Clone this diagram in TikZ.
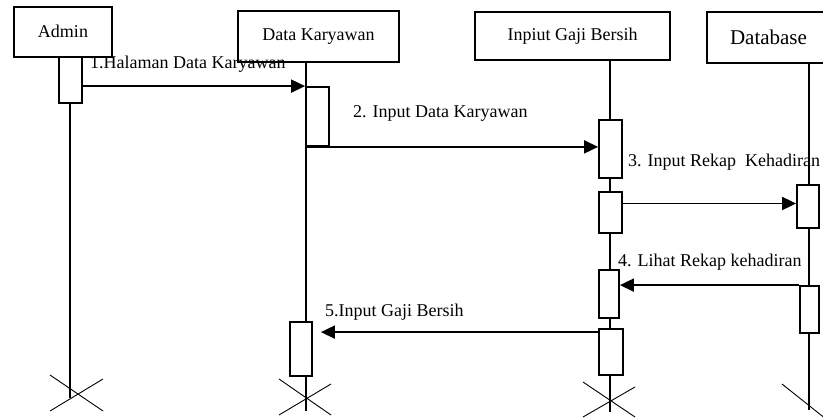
\documentclass[tikz,border=0pt]{standalone}
\usepackage{fontspec}
\setmainfont{Liberation Serif}
\usetikzlibrary{arrows.meta}

\tikzset{
    objbox/.style={draw, line width=1.8pt, inner sep=0pt, font=\fontsize{18}{20}\selectfont},
    actbox/.style={draw, fill=white, line width=1.8pt, inner sep=0pt},
    lifeline/.style={line width=1.5pt},
    msg/.style={->, line width=1.8pt},
    msglabel/.style={anchor=base west, inner sep=0pt, font=\fontsize{18}{20}\selectfont},
    killmark/.style={line width=0.9pt},
}

\begin{document}
\begin{tikzpicture}[x=1pt, y=-1pt, >={Triangle[length=14pt, width=13pt]}]
    \useasboundingbox (0,0) rectangle (823,418);

    % Objects
    \node[objbox, minimum width=98pt, minimum height=50pt] (admin) at (63,32) {\raisebox{2pt}{Admin}};
    \node[objbox, minimum width=161pt, minimum height=51pt] (datakar) at (318.5,36.5) {Data Karyawan};
    \node[objbox, minimum width=195pt, minimum height=48pt] (inputgaji) at (572.5,36) {Inpiut Gaji Bersih};
    \node[objbox, minimum width=123pt, minimum height=51pt, font=\fontsize{21}{23}\selectfont] (database) at (768.5,37.5) {Database};

    % Lifelines
    \coordinate (endA) at (70,398);
    \coordinate (endDK) at (306,411);
    \coordinate (endIG) at (610,412);
    \coordinate (endDB) at (809,410);
    \draw[lifeline] (endA |- admin.south) -- (endA);
    \draw[lifeline] (endDK |- datakar.south) -- (endDK);
    \draw[lifeline] (endIG |- inputgaji.south) -- (endIG);
    \draw[lifeline] (endDB |- database.south) -- (endDB);

    % Destroy marks
    \draw[killmark] (50,375) -- (103,411) (50,411) -- (103,379);
    \draw[killmark] (279,379) -- (331,415) (279,415) -- (331,384);
    \draw[killmark] (583,382) -- (635,417) (583,417) -- (635,387);
    \draw[killmark] (782,384) -- (836,427);

    % Activations
    \node[actbox, minimum width=23pt, minimum height=46pt] (actA) at (70.5,80) {};
    \node[actbox, minimum width=23pt, minimum height=59pt] (actDK1) at (317.5,116.5) {};
    \node[actbox, minimum width=23pt, minimum height=58pt] (actIG1) at (610.5,149) {};
    \node[actbox, minimum width=23pt, minimum height=41pt] (actIG2) at (610.5,212.5) {};
    \node[actbox, minimum width=22pt, minimum height=43pt] (actDB1) at (808,206.5) {};
    \node[actbox, minimum width=20pt, minimum height=48pt] (actIG3) at (609,294) {};
    \node[actbox, minimum width=19pt, minimum height=47pt] (actDB2) at (809.5,309.5) {};
    \node[actbox, minimum width=24pt, minimum height=46pt] (actIG4) at (611,352) {};
    \node[actbox, minimum width=22pt, minimum height=54pt] (actDK2) at (301,349) {};

    % Messages
    \draw[msg] (actA.east |- actDK1.north) -- (actDK1.north west);
    \draw[msg] (actDK1.south west) -- (actIG1.west |- actDK1.south);
    \draw[msg] ([yshift=3pt]actIG2.east |- actDB1.west) -- ([yshift=3pt]actDB1.west);
    \draw[msg] (actDB2.north west) -- (actIG3.east |- actDB2.north);
    \coordinate (m5) at ([yshift=-4pt]actIG4.north west);
    \draw[msg, shorten >=8pt] (m5) -- (actDK2.east |- m5);

    % Labels
    \node[msglabel] (lbl1) at (90,68) {1.Halaman Data Karyawan};
    \node[msglabel] (lbl2) at (353,117) {2. Input Data Karyawan};
    \node[msglabel] (lbl3) at (628,166) {3. Input Rekap~ Kehadiran};
    \node[msglabel] (lbl4) at (618,266) {4. Lihat Rekap kehadiran};
    \node[msglabel] (lbl5) at (325,316) {5.Input Gaji Bersih};
\end{tikzpicture}
\end{document}
